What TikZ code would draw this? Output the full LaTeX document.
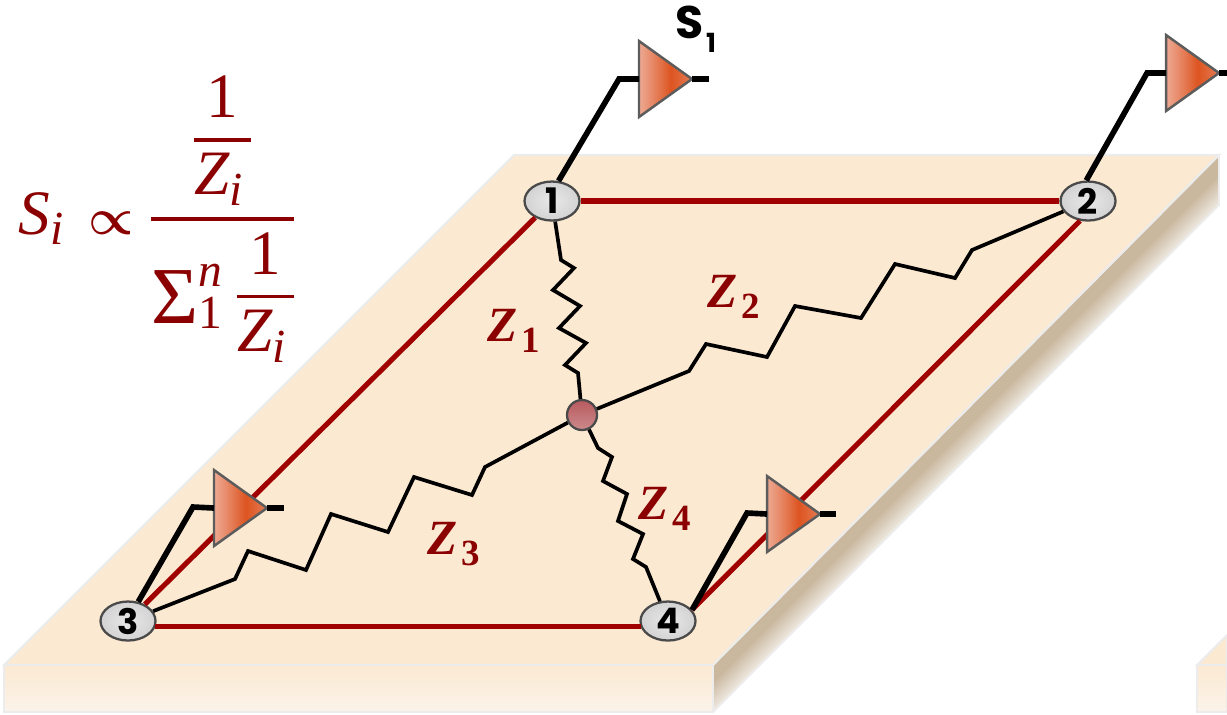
\documentclass[tikz,border=0pt]{standalone}
\usepackage{amsmath,amssymb}
\usepackage{fontspec}
\usepackage{tikz}
\usetikzlibrary{arrows.meta,calc,positioning,shapes.geometric}
\newfontfamily\numfont{Poppins}
\newfontfamily\fml{Liberation Serif}
\DeclareMathSizes{18}{18}{13.5}{11}
\definecolor{slabtop}{HTML}{FBE9D2}
\definecolor{slabedge}{HTML}{ECECEC}
\definecolor{slabfront}{HTML}{FBE3C6}
\definecolor{slabpale}{HTML}{FBF3EA}
\definecolor{sidedark}{HTML}{C9B79E}
\definecolor{sidepale}{HTML}{ECE6DC}
\definecolor{trace}{HTML}{A00000}
\definecolor{labelred}{HTML}{8B0000}
\definecolor{ampdark}{HTML}{DD5420}
\definecolor{ampmid}{HTML}{E47B55}
\definecolor{amppale}{HTML}{EDAA93}
\definecolor{rim}{HTML}{4A4A4A}
\definecolor{hubtop}{HTML}{B85A5E}
\definecolor{hubbot}{HTML}{CC8A8C}
\pgfdeclarehorizontalshading{ampshade}{100bp}{color(0bp)=(amppale); color(25bp)=(amppale); color(42bp)=(ampmid); color(55bp)=(ampdark); color(75bp)=(ampmid); color(100bp)=(ampmid)}
\newcommand{\Zlab}[1]{{\fml\bfseries\itshape Z}\hspace{1.2pt}\raisebox{-0.5ex}{\fontsize{10.5}{12}\selectfont\fml\bfseries #1}}
\newcommand{\fmZ}{\text{\fml\itshape Z}}
\newcommand{\fmI}{\text{\fml\itshape i}}
\newcommand{\fmOne}{\text{\fml 1}}
\newcommand{\fmProp}{\text{\fontsize{14}{14}\selectfont\(\boldsymbol{\propto}\)}}
\newcommand{\fmSum}{\text{\raisebox{-3.4pt}{\fml\fontsize{23}{23}\selectfont Σ}}}
\newcommand{\ffr}[2]{{\displaystyle #1\above 1.1pt\displaystyle #2}}
\tikzset{
  elec/.style={draw=rim,line width=0.65pt,ellipse,inner sep=0pt,minimum width=5.5mm,minimum height=3.9mm,
    inner color=gray!18,outer color=gray!35,font=\numfont\bfseries\fontsize{10}{12}\selectfont},
  amp/.style={draw=rim!90,line width=0.7pt,isosceles triangle,isosceles triangle stretches,inner sep=0pt,outer sep=0pt,
    minimum height=5.3mm,minimum width=7.6mm,shape border rotate=0,anchor=lower side,shading=ampshade},
  wire/.style={line width=1.6pt,line join=miter},
  edge/.style={draw=trace,line width=1.45pt},
  zig/.style={line width=1.05pt,line join=miter},
  zlabel/.style={text=labelred,font=\fontsize{14}{16}\selectfont,inner sep=0pt},
}
\begin{document}
\begin{tikzpicture}[x=0.1mm,y=-0.1mm]
\useasboundingbox (0,0) rectangle (1227,714);
\foreach \k in {0,...,11}{
  \pgfmathtruncatemacro\mixv{max(100-\k*14,0)}
  \fill[sidepale!\mixv!sidedark] (713,{712-\k*4}) -- (1219,{205-\k*4}) -- (1219,157) -- (713,665) -- cycle;
}
\draw[slabedge,line width=0.5pt] (713,712) -- (1219,205) -- (1219,155);
\draw[slabedge,line width=0.6pt,fill=slabtop] (514,155) -- (1219,155) -- (713,665) -- (4,665) -- cycle;
\draw[slabedge,line width=0.6pt,top color=slabtop,middle color=slabfront,bottom color=slabpale] (4,665) rectangle (713,712);
\draw[slabedge,line width=0.6pt,fill=slabtop] (1197,665) -- (1227,635) -- (1227,665) -- cycle;
\draw[slabedge,line width=0.6pt,top color=slabtop,middle color=slabfront,bottom color=slabpale] (1197,665) rectangle (1227,712);
\node[elec] (n1) at (552,201) {1};
\node[elec] (n2) at (1088,201) {2};
\node[elec] (n3) at (128,621) {3};
\node[elec] (n4) at (668,621) {4};
\node[draw=rim,line width=0.65pt,circle,inner sep=0pt,minimum size=3mm,top color=hubtop,bottom color=hubbot] (hub) at (582,415) {};
\draw[edge] (n1) -- (n2);
\draw[edge] (n1) -- (n3);
\draw[edge] (n2.-112) -- (n4.25);
\draw[edge] (n3.-12) -- (n4.192);
\node[amp] (a1) at (639,79) {};
\node[amp] (a2) at (1166,73) {};
\node[amp] (a3) at (214,508) {};
\node[amp] (a4) at (767,514) {};
\coordinate (b1) at (619,79);
\coordinate (b2) at (1147,73);
\coordinate (b3) at (193,507);
\coordinate (b4) at (747,513);
\coordinate (o1) at (709,79);
\coordinate (o2) at (1227,73);
\coordinate (o3) at (284,508);
\coordinate (o4) at (836,514);
\draw[wire] (n1.72) -- (b1) -- (a1.lower side);
\draw[wire] (n2.95) -- (b2) -- (a2.lower side);
\draw[wire] (n3.62) -- (b3) -- (a3.lower side);
\draw[wire] (n4.25) -- (b4) -- (a4.lower side);
\draw[wire] (a1.apex) -- (o1);
\draw[wire] (a2.apex) -- (o2);
\draw[wire] (a3.apex) -- (o3);
\draw[wire] (a4.apex) -- (o4);
\draw[zig] (n1) -- (561,260) -- (574,268) -- (553,290) -- (580,306) -- (559,328) -- (586,343) -- (565,365) -- (578,373) -- (hub);
\draw[zig] (hub) -- (689,371) -- (706,344) -- (767,357) -- (795,306) -- (861,318) -- (895,264) -- (955,278) -- (972,250) -- (n2);
\draw[zig] (hub) -- (485,467) -- (472,495) -- (414,477) -- (388,532) -- (331,514) -- (306,570) -- (248,551) -- (235,579) -- (n3);
\draw[zig] (hub) -- (598,448) -- (612,457) -- (603,481) -- (627,494) -- (618,521) -- (643,534) -- (633,559) -- (646,567) -- (n4);
\node[zlabel] (z1) at (514,331) {\Zlab{1}};
\node[zlabel] (z2) at (734,297) {\Zlab{2}};
\node[zlabel] (z3) at (454,544) {\Zlab{3}};
\node[zlabel] (z4) at (665,509) {\Zlab{4}};
\node[inner sep=0pt,font=\numfont\bfseries\fontsize{13}{15}\selectfont] (s1) at (696,29) {S\hspace{0.6pt}\raisebox{-0.55ex}{\fontsize{7.5}{9}\selectfont 1}};
\node[text=labelred,inner sep=0pt,anchor=base west,font=\fontsize{18}{22}\selectfont] (formula) at (18,234) {\(\displaystyle\fontdimen8\textfont2=10.7pt\fontdimen11\textfont2=10pt\nulldelimiterspace=0pt
\text{\fml\itshape S}_{\fmI}\mkern7mu\fmProp\mkern5mu\ffr{\ffr{\fmOne}{\fmZ_{\fmI}\mkern2mu}}{\fmSum_{\fmOne}^{\text{\fml\itshape n}}\mkern4mu\ffr{\fmOne}{\fmZ_{\fmI}\mkern2mu}}\)};
\end{tikzpicture}
\end{document}
